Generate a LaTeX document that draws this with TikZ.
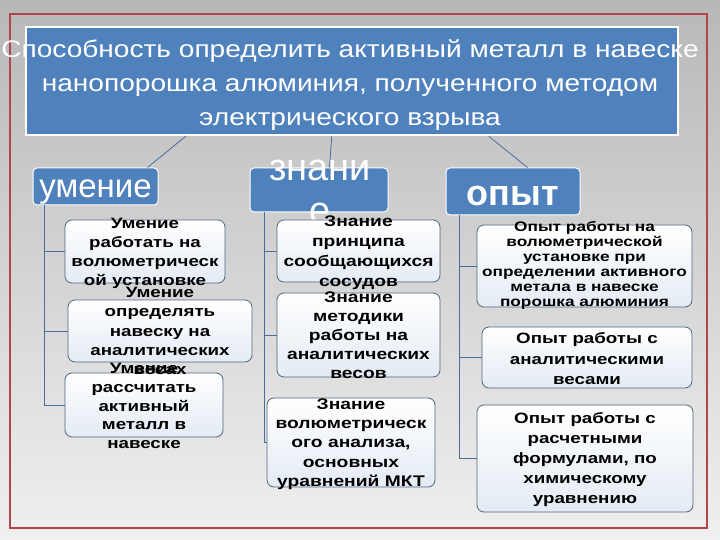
\documentclass[tikz,border=0pt]{standalone}
\usepackage{fontspec}
\setmainfont{Liberation Sans}
\newfontfamily\titlefont[FakeStretch=1.17]{Liberation Sans}
\newfontfamily\itemfont[FakeStretch=1.25]{Liberation Sans}
\definecolor{slideblue}{HTML}{4F81BD}
\definecolor{framered}{HTML}{B3434D}
\definecolor{linkblue}{HTML}{4A6C9B}
\definecolor{boxedge}{HTML}{50657D}
\definecolor{boxtint}{HTML}{E4EBF4}
\tikzset{
  headbox/.style={fill=slideblue, draw=white, line width=2.5pt, inner sep=0pt},
  catbox/.style={fill=slideblue, draw=white, line width=1pt, rounded corners=4pt, inner sep=0pt},
  itembox/.style={top color=white, bottom color=boxtint, draw=boxedge, line width=0.8pt, rounded corners=7pt, inner sep=0pt},
  itemtext/.style={align=center, font=\itemfont\bfseries\fontsize{15}{19}\selectfont},
  link/.style={draw=linkblue, line width=0.8pt},
}
\begin{document}
\begin{tikzpicture}[x=1pt,y=-1pt]
\useasboundingbox (0,0) rectangle (720,540);
\shade[top color=black!28, bottom color=black!6] (0,0) rectangle (720,540);
\draw[framered, line width=1.5pt] (10,14) rectangle (707,528);

% title
\node[headbox, minimum width=652pt, minimum height=108pt] (title) at (352,81) {};
\node[text=white, align=center, font=\titlefont\fontsize{24}{34}\selectfont] (titletxt) at (350,85)
  {Способность определить активный металл в навеске\\
   нанопорошка алюминия, полученного методом\\
   электрического взрыва};

% categories
\node[catbox, minimum width=125pt, minimum height=37pt] (umen) at (95.5,186.5) {};
\node[catbox, minimum width=138pt, minimum height=44pt] (znan) at (319,190) {};
\node[catbox, minimum width=134pt, minimum height=47pt] (opyt) at (513,191.5) {};

\draw[link] ([xshift=161pt]title.south west) -- ([xshift=115pt]umen.north west);
\draw[link] ([xshift=307pt]title.south west) -- ([xshift=80pt]znan.north west);
\draw[link] ([xshift=464pt]title.south west) -- ([xshift=82pt]opyt.north west);

\node[text=white, font=\fontsize{33}{38}\selectfont] (umentxt) at (95.5,192) {умение};
\node[text=white, align=center, font=\fontsize{38}{43}\selectfont] (znantxt) at (320,192) {знани\\е};
\node[text=white, font=\bfseries\fontsize{36}{40}\selectfont] (opyttxt) at (513,196) {опыт};

% trunks
\draw[link] ([xshift=12pt]umen.south west) |- (145,405);
\draw[link] ([xshift=15pt]znan.south west) |- (351,442.5);
\draw[link] ([xshift=14pt]opyt.south west) |- (585,458.5);

% item boxes
\node[itembox, minimum width=160pt, minimum height=63pt] (u1) at (145,251.5) {};
\node[itembox, minimum width=184pt, minimum height=62pt] (u2) at (160,331) {};
\node[itembox, minimum width=158pt, minimum height=64pt] (u3) at (144,405) {};
\node[itembox, minimum width=163pt, minimum height=62pt] (z1) at (358.5,251) {};
\node[itembox, minimum width=163pt, minimum height=84pt] (z2) at (358.5,335) {};
\node[itembox, minimum width=168pt, minimum height=89pt] (z3) at (351,442.5) {};
\node[itembox, minimum width=215pt, minimum height=82pt] (o1) at (584.5,266) {};
\node[itembox, minimum width=210pt, minimum height=61pt] (o2) at (587,357.5) {};
\node[itembox, minimum width=216pt, minimum height=107pt] (o3) at (585,458.5) {};

\draw[link] ([xshift=12pt]umen.south west) |- (u1.west);
\draw[link] ([xshift=12pt]umen.south west) |- (u2.west);
\draw[link] ([xshift=15pt]znan.south west) |- (z1.west);
\draw[link] ([xshift=15pt]znan.south west) |- (z2.west);
\draw[link] ([xshift=14pt]opyt.south west) |- (o1.west);
\draw[link] ([xshift=14pt]opyt.south west) |- (o2.west);

% item texts
\node[itemtext] (u1txt) at (145,253) {Умение\\работать на\\волюметрическ\\ой установке};
\node[itemtext, font=\itemfont\bfseries\fontsize{15}{19.3}\selectfont] (u2txt) at (160,331) {Умение\\определять\\навеску на\\аналитических\\весах};
\node[itemtext, font=\itemfont\bfseries\fontsize{15}{18.8}\selectfont] (u3txt) at (144,406) {Умение\\рассчитать\\активный\\металл в\\навеске};
\node[itemtext, font=\itemfont\bfseries\fontsize{15.4}{20}\selectfont] (z1txt) at (358.5,253) {Знание\\принципа\\сообщающихся\\сосудов};
\node[itemtext, font=\itemfont\bfseries\fontsize{15.4}{19}\selectfont] (z2txt) at (358.5,335) {Знание\\методики\\работы на\\аналитических\\весов};
\node[itemtext, font=\itemfont\bfseries\fontsize{15.4}{19.3}\selectfont] (z3txt) at (351,444) {Знание\\волюметрическ\\ого анализа,\\основных\\уравнений МКТ};
\node[itemtext, font=\itemfont\bfseries\fontsize{13.8}{15}\selectfont] (o1txt) at (584.5,265) {Опыт работы на\\волюметрической\\установке при\\определении активного\\метала в навеске\\порошка алюминия};
\node[itemtext, font=\itemfont\bfseries\fontsize{15}{20.5}\selectfont] (o2txt) at (587,359) {Опыт работы с\\аналитическими\\весами};
\node[itemtext, font=\itemfont\bfseries\fontsize{15}{20}\selectfont] (o3txt) at (585,460) {Опыт работы с\\расчетными\\формулами, по\\химическому\\уравнению};
\end{tikzpicture}
\end{document}
